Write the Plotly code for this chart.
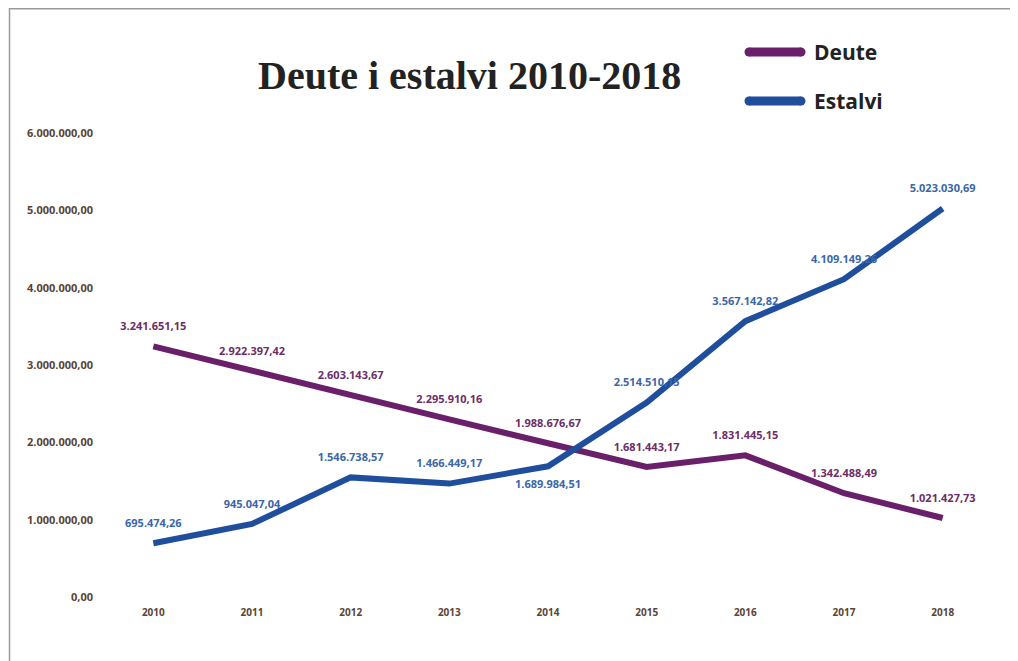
import plotly.graph_objects as go

years = ["2010", "2011", "2012", "2013", "2014", "2015", "2016", "2017", "2018"]
deute = [3241651.15, 2922397.42, 2603143.67, 2295910.16, 1988676.67,
         1681443.17, 1831445.15, 1342488.49, 1021427.73]
estalvi = [695474.26, 945047.04, 1546738.57, 1466449.17, 1689984.51,
           2514510.15, 3567142.82, 4109149.26, 5023030.69]
deute_text = ["3.241.651,15", "2.922.397,42", "2.603.143,67", "2.295.910,16", "1.988.676,67",
              "1.681.443,17", "1.831.445,15", "1.342.488,49", "1.021.427,73"]
estalvi_text = ["695.474,26", "945.047,04", "1.546.738,57", "1.466.449,17", "1.689.984,51",
                "2.514.510,15", "3.567.142,82", "4.109.149,26", "5.023.030,69"]
y_ticks = [0, 1000000, 2000000, 3000000, 4000000, 5000000, 6000000]
y_tick_text = ["0,00", "1.000.000,00", "2.000.000,00", "3.000.000,00",
               "4.000.000,00", "5.000.000,00", "6.000.000,00"]
series_names = ["Deute", "Estalvi"]
title_text = "Deute i estalvi 2010-2018"

# page body has an 8px margin; work in page pixels and convert
OFF = 8
W_FIG, H_FIG = 1018 - OFF, 661 - OFF
L, R, T, B = 104 - OFF, 992 - OFF, 133 - OFF, 597 - OFF
PW, PH = R - L, B - T


def px(x):
    return (x - OFF - L) / PW


def py(y):
    return (B - (y - OFF)) / PH


DEUTE_C = "#6a1f6b"
ESTALVI_C = "#1f4f9c"
DEUTE_TXT = "#6e2d68"
ESTALVI_TXT = "#3a67a8"
TICK_C = "#5a4434"

fig = go.Figure()

estalvi_pos = ["top center"] * len(years)
estalvi_pos[4] = "bottom center"

fig.add_trace(go.Scatter(
    x=years, y=deute, name=series_names[0], mode="lines+markers+text",
    line=dict(color=DEUTE_C, width=6),
    marker=dict(size=20, opacity=0, color=DEUTE_C),
    text=deute_text, textposition="top center",
    textfont=dict(family="Open Sans", size=11, color=DEUTE_TXT, weight="bold"),
    showlegend=False, cliponaxis=False,
))
fig.add_trace(go.Scatter(
    x=years, y=estalvi, name=series_names[1], mode="lines+markers+text",
    line=dict(color=ESTALVI_C, width=6),
    marker=dict(size=20, opacity=0, color=ESTALVI_C),
    text=estalvi_text, textposition=estalvi_pos,
    textfont=dict(family="Open Sans", size=11, color=ESTALVI_TXT, weight="bold"),
    showlegend=False, cliponaxis=False,
))

shapes = []
# frame lines (top and left border)
shapes.append(dict(type="line", xref="paper", yref="paper",
                   x0=px(9.5), x1=px(1018), y0=py(8.5), y1=py(8.5),
                   line=dict(color="#9a9a9a", width=2)))
shapes.append(dict(type="line", xref="paper", yref="paper",
                   x0=px(9.5), x1=px(9.5), y0=py(8), y1=py(661),
                   line=dict(color="#9a9a9a", width=1.5)))

annotations = []
# legend (manual)
for name, col, yy in [(series_names[0], DEUTE_C, 52), (series_names[1], ESTALVI_C, 101)]:
    shapes.append(dict(type="line", xref="paper", yref="paper",
                       x0=px(749), x1=px(801), y0=py(yy), y1=py(yy),
                       line=dict(color=col, width=9)))
    for cx in (749, 801):
        shapes.append(dict(type="circle", xref="paper", yref="paper",
                           x0=px(cx - 4.5), x1=px(cx + 4.5),
                           y0=py(yy + 4.5), y1=py(yy - 4.5),
                           fillcolor=col, line=dict(width=0)))
    annotations.append(dict(text=name, xref="paper", yref="paper",
                            x=px(812), y=py(yy), xanchor="left", yanchor="middle",
                            showarrow=False,
                            font=dict(family="Open Sans", size=21, color="#222222", weight="bold")))

annotations.append(dict(text=title_text, xref="paper", yref="paper",
                        x=px(469), y=py(75), xanchor="center", yanchor="middle",
                        showarrow=False,
                        font=dict(family="Liberation Serif", size=40, color="#222222", weight="bold")))

fig.update_layout(
    width=W_FIG, height=H_FIG,
    margin=dict(l=L, r=W_FIG - R, t=T, b=H_FIG - B, pad=0),
    paper_bgcolor="white", plot_bgcolor="white",
    shapes=shapes, annotations=annotations,
    showlegend=False,
    xaxis=dict(type="category", range=[-0.5, 8.5], showgrid=False, zeroline=False,
               showline=False, ticks="", ticklabelstandoff=8,
               tickfont=dict(family="Open Sans", size=10, color=TICK_C, weight="bold")),
    yaxis=dict(range=[0, 6000000], tickvals=y_ticks, ticktext=y_tick_text,
               showgrid=False, zeroline=False, showline=False, ticks="",
               ticklabelstandoff=10,
               tickfont=dict(family="Open Sans", size=11, color=TICK_C, weight="bold")),
)

fig.write_html("out.html")
